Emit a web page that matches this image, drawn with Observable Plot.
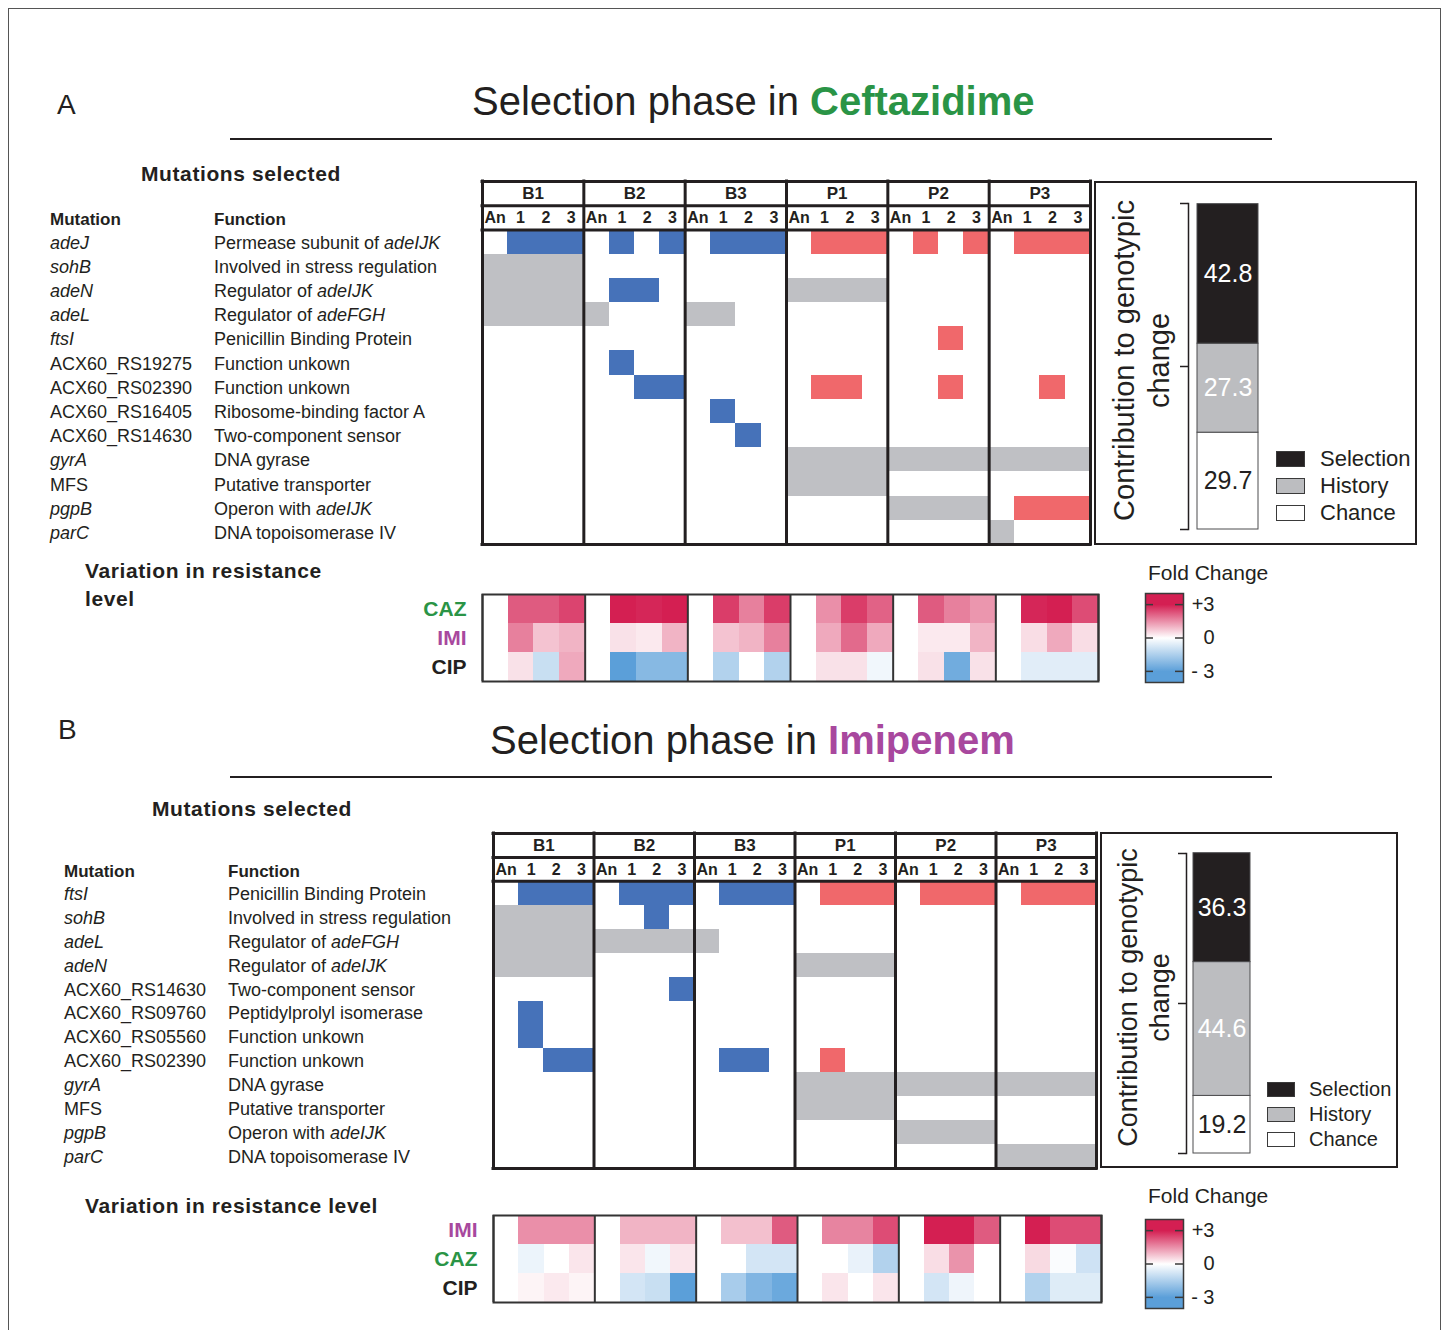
<!DOCTYPE html>
<html>
<head>
<meta charset="utf-8">
<script src="https://cdn.jsdelivr.net/npm/d3@7"></script>
<script src="https://cdn.jsdelivr.net/npm/@observablehq/plot@0.6"></script>
<style>
  body { margin: 0; background: #fff; }
  #fig {
    position: relative; width: 1447px; height: 1330px; overflow: hidden;
    font-family: "Liberation Sans", Arial, Helvetica, sans-serif; color: #231f20;
  }
  #fig div { white-space: nowrap; }
  #fig svg { position: absolute; overflow: visible; }
</style>
</head>
<body>
<div id="fig"></div>
<script>
// ---------------- data ----------------
const groups = ["B1", "B2", "B3", "P1", "P2", "P3"];
const sampleColumns = ["An", "1", "2", "3"];

// Panel A: selection in ceftazidime
const mutationsA = ["adeJ", "sohB", "adeN", "adeL", "ftsI", "ACX60_RS19275", "ACX60_RS02390",
  "ACX60_RS16405", "ACX60_RS14630", "gyrA", "MFS", "pgpB", "parC"];
const functionsA = ["Permease subunit of *adeIJK*", "Involved in stress regulation", "Regulator of *adeIJK*",
  "Regulator of *adeFGH*", "Penicillin Binding Protein", "Function unkown", "Function unkown",
  "Ribosome-binding factor A", "Two-component sensor", "DNA gyrase", "Putative transporter",
  "Operon with *adeIJK*", "DNA topoisomerase IV"];
// one block of four samples (An, 1, 2, 3) per population; s = selected, h = history, . = absent
const genotypesA = [
  ".sss .s.s .sss .sss .s.s .sss",
  "hhhh .... .... .... .... ....",
  "hhhh .ss. .... hhhh .... ....",
  "hhhh h... hh.. .... .... ....",
  ".... .... .... .... ..s. ....",
  ".... .s.. .... .... .... ....",
  ".... ..ss .... .ss. ..s. ..s.",
  ".... .... .s.. .... .... ....",
  ".... .... ..s. .... .... ....",
  ".... .... .... hhhh hhhh hhhh",
  ".... .... .... hhhh .... ....",
  ".... .... .... .... hhhh .sss",
  ".... .... .... .... .... h..."
];
const drugsA = ["CAZ", "IMI", "CIP"];
const cazA = [0, 2.2, 2.2, 2.5, 0, 3, 2.9, 3, 0, 2.6, 1.7, 2.6, 0, 1.5, 2.6, 2.1, 0, 2.2, 1.7, 1.4, 0, 2.9, 3, 2.4];
const imiA = [0, 1.7, 0.8, 1.0, 0, 0.4, 0.3, 1.0, 0, 0.8, 1.0, 1.7, 0, 1.15, 2.0, 1.15, 0, 0.3, 0.3, 1.0, 0, 0.45, 1.15, 0.45];
const cipA = [0, 0.4, -1.0, 1.15, 0, -3, -2.2, -2.2, 0, -1.4, 0, -1.4, 0, 0.4, 0.4, -0.25, 0, 0.4, -2.6, 0.4, 0, -0.55, -0.55, -0.55];
const contributionA = [42.8, 27.3, 29.7];

// Panel B: selection in imipenem
const mutationsB = ["ftsI", "sohB", "adeL", "adeN", "ACX60_RS14630", "ACX60_RS09760", "ACX60_RS05560",
  "ACX60_RS02390", "gyrA", "MFS", "pgpB", "parC"];
const functionsB = ["Penicillin Binding Protein", "Involved in stress regulation", "Regulator of *adeFGH*",
  "Regulator of *adeIJK*", "Two-component sensor", "Peptidylprolyl isomerase", "Function unkown",
  "Function unkown", "DNA gyrase", "Putative transporter", "Operon with *adeIJK*", "DNA topoisomerase IV"];
const genotypesB = [
  ".sss .sss .sss .sss .sss .sss",
  "hhhh ..s. .... .... .... ....",
  "hhhh hhhh h... .... .... ....",
  "hhhh .... .... hhhh .... ....",
  ".... ...s .... .... .... ....",
  ".s.. .... .... .... .... ....",
  ".s.. .... .... .... .... ....",
  "..ss .... .ss. .s.. .... ....",
  ".... .... .... hhhh hhhh hhhh",
  ".... .... .... hhhh .... ....",
  ".... .... .... .... hhhh ....",
  ".... .... .... .... .... hhhh"
];
const drugsB = ["IMI", "CAZ", "CIP"];
const imiB = [0, 1.5, 1.5, 1.5, 0, 1.0, 1.0, 1.0, 0, 0.85, 0.85, 2.2, 0, 1.65, 1.65, 2.4, 0, 3, 3, 2.2, 0, 3, 2.4, 2.4];
const cazB = [0, -0.35, 0, 0.35, 0, 0.35, -0.25, 0.35, 0, 0, -0.8, -0.8, 0, 0, -0.4, -1.4, 0, 0.45, 1.45, 0, 0, 0.5, -0.1, -0.9];
const cipB = [0, 0.15, 0.3, 0.15, 0, -0.8, -1.0, -3, 0, -1.6, -2.3, -2.7, 0, 0.35, 0, 0.35, 0, -0.8, -0.3, 0, 0, -1.4, -0.6, -0.6];
const contributionB = [36.3, 44.6, 19.2];

const componentNames = ["Selection", "History", "Chance"];
const colorbarTicks = [3, 0, -3];
const colorbarTickLabels = ["+3", "0", "- 3"];

// ---------------- styling ----------------
const FONT = "'Liberation Sans', Arial, Helvetica, sans-serif";
const INK = "#231f20";
const drugColor = {CAZ: "#2a9446", IMI: "#a8489e", CIP: INK};
const stateColor = {"Selected (B)": "#4672b9", "Selected (P)": "#f0686b", "History": "#bfc0c4"};
const componentColor = ["#231f20", "#bcbdc0", "#ffffff"];
const foldColor = {type: "linear", domain: [-3, 0, 3], range: ["#5b9fd9", "#ffffff", "#d41f52"], interpolate: "rgb", clamp: true};
const svgStyle = {fontFamily: FONT, color: INK, background: "transparent", overflow: "visible"};

const fig = document.getElementById("fig");

function put(node, left, top) {
  node.style.left = left + "px";
  node.style.top = top + "px";
  fig.appendChild(node);
  return node;
}
function label(html, left, cy, size, extra = "") {
  const d = document.createElement("div");
  d.innerHTML = html;
  d.style.cssText = `position:absolute;left:${left}px;top:${cy - size / 2}px;font-size:${size}px;line-height:${size}px;${extra}`;
  fig.appendChild(d);
  return d;
}
function box(left, top, width, height, css) {
  const d = document.createElement("div");
  d.style.cssText = `position:absolute;box-sizing:border-box;left:${left}px;top:${top}px;width:${width}px;height:${height}px;${css}`;
  fig.appendChild(d);
  return d;
}
const rich = s => s.replace(/\*(.+?)\*/g, "<i>$1</i>");
const isGene = m => !/^ACX60|^MFS/.test(m);

// mutation presence/absence grid with population and sample headers
function genotypePlot(mutations, rows, layout) {
  const cells = [];
  rows.forEach((row, r) => row.split(" ").forEach((block, g) => [...block].forEach((ch, c) => {
    if (ch === ".") return;
    const state = ch === "h" ? "History" : groups[g].startsWith("B") ? "Selected (B)" : "Selected (P)";
    cells.push({row: r, col: g * 4 + c, state});
  })));
  const headers = groups.map((g, i) => ({label: g, col: i * 4 + 2, row: -1.5}));
  const samples = groups.flatMap((g, i) => sampleColumns.map((s, j) => ({label: s, col: i * 4 + j + 0.5, row: -0.5})));
  const n = mutations.length;
  const m = 2;
  return Plot.plot({
    width: layout.width, height: layout.height,
    marginTop: m, marginRight: m, marginBottom: m, marginLeft: m,
    style: svgStyle,
    x: {domain: [0, groups.length * sampleColumns.length], axis: null},
    y: {domain: [-2, n], reverse: true, axis: null},
    color: {domain: Object.keys(stateColor), range: Object.values(stateColor)},
    marks: [
      Plot.rect(cells, {x1: "col", x2: d => d.col + 1, y1: "row", y2: d => d.row + 1, fill: "state", shapeRendering: "crispEdges"}),
      Plot.text(headers, {x: "col", y: "row", text: "label", fontWeight: "bold", fontSize: 17, fill: INK}),
      Plot.text(samples, {x: "col", y: "row", text: "label", fontWeight: "bold", fontSize: 16, fill: INK}),
      Plot.ruleX(d3.range(0, groups.length * sampleColumns.length + 1, sampleColumns.length), {stroke: INK, strokeWidth: 3, strokeLinecap: "square"}),
      Plot.ruleY([-2, -1, 0, n], {stroke: INK, strokeWidth: 3, strokeLinecap: "square"})
    ]
  });
}

// fold change in resistance, one row per antibiotic
function foldPlot(drugs, values, layout) {
  const cells = drugs.flatMap((drug, k) => values[k].map((v, col) => ({drug, col, v})));
  return Plot.plot({
    width: layout.width, height: layout.height,
    marginTop: 1, marginRight: 2, marginBottom: 2, marginLeft: layout.marginLeft,
    style: svgStyle,
    x: {domain: [0, groups.length * sampleColumns.length], axis: null},
    y: {domain: drugs, axis: null, padding: 0},
    color: foldColor,
    marks: [
      Plot.barX(cells, {x1: "col", x2: d => d.col + 1, y: "drug", fill: "v", shapeRendering: "crispEdges"}),
      Plot.ruleX(d3.range(0, groups.length * sampleColumns.length + 1, sampleColumns.length), {stroke: "#333", strokeWidth: 2}),
      Plot.frame({stroke: "#333", strokeWidth: 2}),
      ...drugs.map(d => Plot.text([d], {y: x => x, text: x => x, frameAnchor: "left", dx: -16, textAnchor: "end",
        fill: drugColor[d], fontWeight: "bold", fontSize: 21}))
    ]
  });
}

// vertical colour bar for the fold change scale
let gradientCount = 0;
function colorbarPlot(layout) {
  const id = "foldgrad" + (++gradientCount);
  const plot = Plot.plot({
    width: 79, height: layout.height,
    marginTop: 1, marginBottom: 1, marginLeft: 1, marginRight: 40,
    style: svgStyle,
    y: {domain: [-4, 4], axis: null},
    marks: [
      Plot.frame({fill: `url(#${id})`, stroke: "#3a3a3a", strokeWidth: 1.5}),
      Plot.ruleY(colorbarTicks, {insetRight: 30, stroke: "#3a3a3a", strokeWidth: 1.5}),
      Plot.ruleY(colorbarTicks, {insetLeft: 30, stroke: "#3a3a3a", strokeWidth: 1.5}),
      Plot.text(colorbarTicks, {y: d => d, text: (d, i) => colorbarTickLabels[i], frameAnchor: "right", dx: 31,
        textAnchor: "end", fontSize: 20, fill: INK})
    ]
  });
  const scale = Plot.scale({color: foldColor});
  const ns = "http://www.w3.org/2000/svg";
  const defs = document.createElementNS(ns, "defs");
  const grad = document.createElementNS(ns, "linearGradient");
  grad.setAttribute("id", id);
  grad.setAttribute("x1", "0"); grad.setAttribute("y1", "0");
  grad.setAttribute("x2", "0"); grad.setAttribute("y2", "1");
  for (const v of [4, 3, 1.5, 0, -1.5, -3, -4]) {
    const stop = document.createElementNS(ns, "stop");
    stop.setAttribute("offset", (4 - v) / 8);
    stop.setAttribute("stop-color", scale.apply(v));
    grad.appendChild(stop);
  }
  defs.appendChild(grad);
  plot.insertBefore(defs, plot.firstChild);
  return plot;
}

// stacked contribution of selection, history and chance
function contributionPlot(values, layout) {
  const data = componentNames.map((c, i) => ({component: c, value: values[i]})).reverse();
  const gap = layout.gap;
  return Plot.plot({
    width: layout.width, height: layout.height,
    marginLeft: layout.marginLeft, marginRight: layout.marginRight,
    marginTop: layout.marginTop, marginBottom: layout.marginBottom,
    style: svgStyle,
    y: {domain: [0, 100], axis: null, label: null},
    color: {domain: componentNames, range: componentColor},
    marks: [
      Plot.barY(data, {y: "value", fill: "component", stroke: "#4d4d4f", strokeWidth: 1, insetLeft: gap}),
      Plot.text(data, Plot.stackY({y: "value", text: d => d.component === "Chance" ? "" : d.value.toFixed(1),
        fill: "#ffffff", dx: gap / 2, fontSize: 25})),
      Plot.text(data, Plot.stackY({y: "value", text: d => d.component === "Chance" ? d.value.toFixed(1) : "",
        fill: INK, dx: gap / 2, fontSize: 25})),
      Plot.axisY({ticks: [0, 50, 100], tickSize: 8, tickFormat: () => "", label: null, stroke: INK, strokeWidth: 1.5}),
      Plot.frame({anchor: "left", stroke: INK, strokeWidth: 1.5}),
      Plot.text(["Contribution to genotypic\nchange"], {text: d => d, frameAnchor: "left", dx: layout.labelDx, dy: layout.labelDy,
        rotate: -90, textAnchor: "middle", lineAnchor: "middle", lineHeight: 1.2, fontSize: layout.labelSize, fill: INK})
    ]
  });
}

function contributionLegend(left, tops, size, fontSize, textLeft) {
  componentNames.forEach((name, i) => {
    box(left, tops[i] - size[1] / 2, size[0], size[1], `background:${componentColor[i]};border:1px solid #3a3a3a;`);
    label(name, textLeft, tops[i], fontSize);
  });
}

function mutationTable(mutations, functions, plot, plotTop, colMut, colFun, headerY) {
  const y = plot.scale("y");
  label("Mutation", colMut, headerY, 17, "font-weight:bold;");
  label("Function", colFun, headerY, 17, "font-weight:bold;");
  mutations.forEach((m, r) => {
    const cy = plotTop + y.apply(r + 0.5) + 1;
    label(isGene(m) ? `<i>${m}</i>` : m, colMut, cy, 18);
    label(rich(functions[r]), colFun, cy, 18);
  });
}

// ---------------- figure frame ----------------
box(8, 8, 1433, 1340, "border:1px solid #555;");

// ---------------- panel A ----------------
label("A", 57, 105, 28);
label(`Selection phase in <b style="color:${drugColor.CAZ}">Ceftazidime</b>`, 472, 101, 40);
box(230, 138, 1042, 2, `background:${INK};`);
label("Mutations selected", 141, 173, 21, "font-weight:bold;letter-spacing:0.6px;");

const heatA = put(genotypePlot(mutationsA, genotypesA, {width: 612, height: 367}), 480, 179);
mutationTable(mutationsA, functionsA, heatA, 179, 50, 214, 219);

label("Variation in resistance", 85, 570, 21, "font-weight:bold;letter-spacing:0.6px;");
label("level", 85, 598, 21, "font-weight:bold;letter-spacing:0.6px;");
put(foldPlot(drugsA, [cazA, imiA, cipA], {width: 700, height: 90, marginLeft: 82}), 400, 593);

label("Fold Change", 1148, 572, 21);
put(colorbarPlot({height: 91}), 1144, 592);

box(1094, 181, 323, 364, `border:2px solid ${INK};`);
put(contributionPlot(contributionA, {width: 323, height: 364, marginLeft: 94, marginRight: 159,
  marginTop: 22, marginBottom: 16, gap: 9, labelDx: -48.5, labelDy: -6, labelSize: 29}), 1094, 181);
contributionLegend(1276, [459, 486, 513], [29, 16], 22, 1320);

// ---------------- panel B ----------------
label("B", 58, 730, 28);
label(`Selection phase in <b style="color:${drugColor.IMI}">Imipenem</b>`, 490, 740, 40);
box(230, 776, 1042, 2, `background:${INK};`);
label("Mutations selected", 152, 808, 21, "font-weight:bold;letter-spacing:0.6px;");

const heatB = put(genotypePlot(mutationsB, genotypesB, {width: 607, height: 339}), 491, 831);
mutationTable(mutationsB, functionsB, heatB, 831, 64, 228, 871);

label("Variation in resistance level", 85, 1205, 21, "font-weight:bold;letter-spacing:0.6px;");
put(foldPlot(drugsB, [imiB, cazB, cipB], {width: 703, height: 90, marginLeft: 93}), 400, 1214);

label("Fold Change", 1148, 1195, 21);
put(colorbarPlot({height: 91}), 1144, 1218);

box(1100, 832, 298, 336, `border:2px solid ${INK};`);
put(contributionPlot(contributionB, {width: 298, height: 336, marginLeft: 86, marginRight: 148,
  marginTop: 21, marginBottom: 15, gap: 7, labelDx: -44, labelDy: -6, labelSize: 27}), 1100, 832);
contributionLegend(1267, [1089, 1114, 1139], [28, 15], 20, 1309);
</script>
</body>
</html>
